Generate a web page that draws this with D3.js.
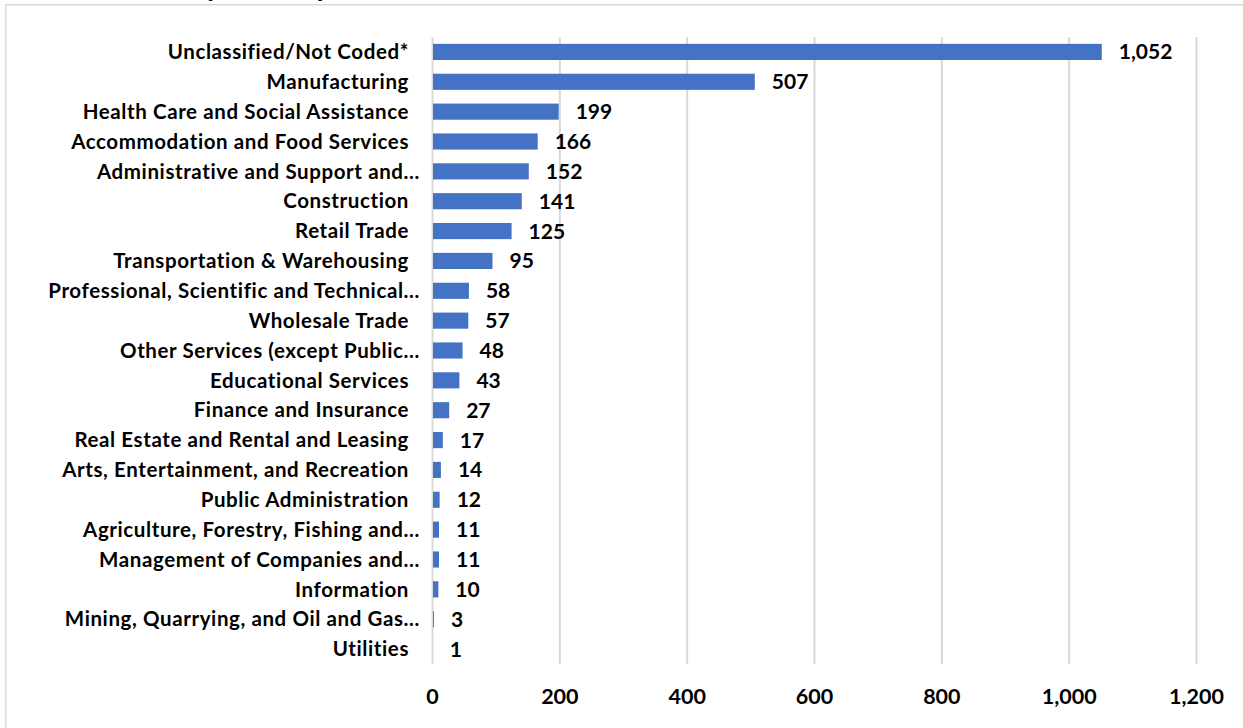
<!DOCTYPE html>
<html>
<head>
<meta charset="utf-8">
<script src="https://cdn.jsdelivr.net/npm/d3@7"></script>
<style>
    html, body { margin: 0; padding: 0; background: #ffffff; }
    svg { display: block; }
</style>
</head>
<body>
<div id="chart"></div>
<script>
// DATA
// ================================================================================== //

const categories = [
    "Unclassified/Not Coded*",
    "Manufacturing",
    "Health Care and Social Assistance",
    "Accommodation and Food Services",
    "Administrative and Support and…",
    "Construction",
    "Retail Trade",
    "Transportation & Warehousing",
    "Professional, Scientific and Technical…",
    "Wholesale Trade",
    "Other Services (except Public…",
    "Educational Services",
    "Finance and Insurance",
    "Real Estate and Rental and Leasing",
    "Arts, Entertainment, and Recreation",
    "Public Administration",
    "Agriculture, Forestry, Fishing and…",
    "Management of Companies and…",
    "Information",
    "Mining, Quarrying, and Oil and Gas…",
    "Utilities"
]

const values = [1052, 507, 199, 166, 152, 141, 125, 95, 58, 57, 48, 43, 27, 17, 14, 12, 11, 11, 10, 3, 1]

const xTicks = [0, 200, 400, 600, 800, 1000, 1200]

// ================================================================================== //
// DATA END

const width = 1243
const height = 728
const margin = ({ top: 37, right: 47, bottom: 64, left: 432 })

const font = "Lato, 'Open Sans', sans-serif"
const barColor = "#4472c4"
const gridColor = "#d9d9d9"

const data = categories.map((c, i) => ({ name: c, value: values[i] }))

const x = d3.scaleLinear()
    .domain([0, 1200])
    .range([margin.left, width - margin.right])

const y = d3.scaleBand()
    .domain(categories)
    .range([margin.top, height - margin.bottom])
    .paddingInner(0.46)
    .paddingOuter(0.23)

const svg = d3.select("#chart")
    .append("svg")
    .attr("width", width)
    .attr("height", height)
    .attr("viewBox", [0, 0, width, height])

// chart area border (runs off the right and bottom edges)
svg.append("rect")
    .attr("x", 5.75)
    .attr("y", 4.75)
    .attr("width", width + 20)
    .attr("height", height + 20)
    .attr("fill", "none")
    .attr("stroke", gridColor)
    .attr("stroke-width", 1.5)

// title, only its descenders show at the top edge
svg.append("text")
    .attr("x", 190)
    .attr("y", -4.5)
    .attr("font-family", font)
    .attr("font-weight", 700)
    .attr("font-size", 28)
    .attr("fill", "#000")
    .text("by Industry")

// vertical gridlines, axis labels
const xAxis = g => g
    .attr("transform", `translate(0,${height - margin.bottom})`)
    .call(d3.axisBottom(x)
        .tickValues(xTicks)
        .tickSize(-(height - margin.top - margin.bottom))
        .tickPadding(25)
        .tickFormat(d3.format(",")))
    .call(g => g.select(".domain").remove())
    .call(g => g.selectAll(".tick line")
        .attr("stroke", gridColor)
        .attr("stroke-width", 2))
    .call(g => g.selectAll(".tick text")
        .attr("font-family", font)
        .attr("font-weight", 700)
        .attr("font-size", 21.5)
        .attr("fill", "#000"))

svg.append("g").call(xAxis)

// bars
svg.append("g")
    .selectAll("rect")
    .data(data)
    .join("rect")
    .attr("x", x(0) + 1)
    .attr("y", d => y(d.name))
    .attr("width", d => Math.max(0, x(d.value) - x(0) - 1))
    .attr("height", y.bandwidth())
    .attr("fill", barColor)

// value labels
svg.append("g")
    .selectAll("text")
    .data(data)
    .join("text")
    .attr("x", d => x(d.value) + 17)
    .attr("y", d => y(d.name) + y.bandwidth() / 2)
    .attr("dy", "0.36em")
    .attr("font-family", font)
    .attr("font-weight", 700)
    .attr("font-size", 21)
    .attr("fill", "#000")
    .text(d => d3.format(",")(d.value))

// category labels
svg.append("g")
    .selectAll("text")
    .data(data)
    .join("text")
    .attr("x", d => d.name.endsWith("…") ? 420 : 409)
    .attr("y", d => y(d.name) + y.bandwidth() / 2)
    .attr("dy", "0.35em")
    .attr("text-anchor", "end")
    .attr("font-family", font)
    .attr("font-weight", 700)
    .attr("font-size", 20.5)
    .attr("letter-spacing", 0.6)
    .attr("fill", "#000")
    .text(d => d.name)
</script>
</body>
</html>
